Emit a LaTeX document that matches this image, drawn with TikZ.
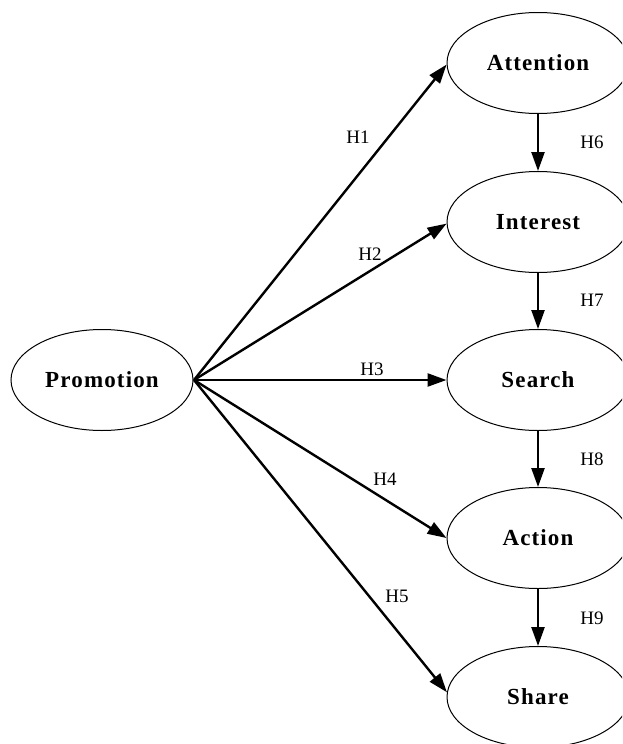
\documentclass[tikz,border=0pt]{standalone}
\usepackage{fontspec}
\setmainfont{Liberation Serif}
\newfontfamily\boxfont[LetterSpace=5]{Liberation Serif}
\usetikzlibrary{shapes.geometric,arrows.meta}
\begin{document}
\begin{tikzpicture}[x=1pt,y=-1pt,
  construct/.style={draw,ellipse,line width=1pt,minimum width=182pt,minimum height=101pt,inner sep=0pt,
    font=\boxfont\fontsize{23}{26}\selectfont\bfseries},
  link/.style={line width=2.4pt,-{Triangle[length=19pt,width=13pt]}},
  hlabel/.style={font=\fontsize{19}{21}\selectfont,inner sep=0pt}]
\clip (0,0) rectangle (622,744);
\useasboundingbox (0,0) rectangle (622,744);
\node[construct] (pro) at (102,380) {Promotion};
\node[construct] (att) at (538,63) {Attention};
\node[construct] (int) at (538,222) {Interest};
\node[construct] (sea) at (538,380) {Search};
\node[construct] (act) at (538,538) {Action};
\node[construct] (sha) at (538,697) {Share};
\coordinate (o) at (194,380);
\draw[link] (o) -- (att.181);
\draw[link] (o) -- (int.181);
\draw[link] (o) -- (sea.west);
\draw[link] (o) -- (act.west);
\draw[link] (o) -- (sha.177);
\draw[link] (att.south) -- (int.north);
\draw[link] (int.south) -- (sea.north);
\draw[link] (sea.south) -- (act.north);
\draw[link] (act.south) -- (sha.north);
\node[hlabel] (h1) at (358,137) {H1};
\node[hlabel] (h2) at (370,254) {H2};
\node[hlabel] (h3) at (372,369) {H3};
\node[hlabel] (h4) at (385,479) {H4};
\node[hlabel] (h5) at (397,596) {H5};
\node[hlabel] (h6) at (592,142) {H6};
\node[hlabel] (h7) at (592,300) {H7};
\node[hlabel] (h8) at (592,459) {H8};
\node[hlabel] (h9) at (592,618) {H9};
\end{tikzpicture}
\end{document}
